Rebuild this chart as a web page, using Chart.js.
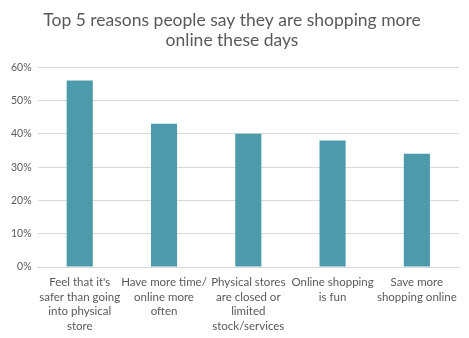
<!DOCTYPE html>
<html lang="en">
  <head>
    <meta charset="UTF-8" />
    <title>Shopping reasons</title>
    <script src="https://cdn.jsdelivr.net/npm/chart.js@4/dist/chart.umd.min.js"></script>
    <style>
      html, body { margin: 0; padding: 0; background: #fff; }
      .chart-container { position: relative; width: 469px; height: 338px; }
    </style>
  </head>
  <body>
    <div class="chart-container">
      <canvas id="chart"></canvas>
    </div>
    <script>
      const titleLines = ['Top 5 reasons people say they are shopping more', 'online these days'];
      const reasons = [
        ["Feel that it's", 'safer than going', 'into physical', 'store'],
        ['Have more time/', 'online more', 'often'],
        ['Physical stores', 'are closed or', 'limited', 'stock/services'],
        ['Online shopping', 'is fun'],
        ['Save more', 'shopping online']
      ];
      const shares = [0.56, 0.43, 0.40, 0.38, 0.34];
      const yTicks = [0, 0.1, 0.2, 0.3, 0.4, 0.5, 0.6];

      const font = "Lato, 'Open Sans', sans-serif";
      const grey = '#595959';

      new Chart(document.getElementById('chart'), {
        type: 'bar',
        data: {
          labels: reasons,
          datasets: [{
            data: shares,
            backgroundColor: '#4e9aad',
            barPercentage: 0.31,
            categoryPercentage: 1
          }]
        },
        options: {
          responsive: true,
          maintainAspectRatio: false,
          animation: false,
          layout: { padding: { left: 5, right: 10, top: 10, bottom: 0 } },
          plugins: {
            legend: { display: false },
            tooltip: { enabled: false },
            title: {
              display: true,
              text: titleLines,
              color: grey,
              font: { family: font, size: 17.5, weight: 'normal', lineHeight: 1.15 },
              padding: { top: 0, bottom: 17 }
            }
          },
          scales: {
            x: {
              grid: { display: false, drawTicks: false },
              border: { color: '#d9d9d9' },
              // keep the label band a fixed height so the plot ends at the same place
              afterFit: axis => { axis.height = 71; },
              ticks: {
                color: grey,
                maxRotation: 0,
                autoSkip: false,
                padding: 8,
                font: { family: font, size: 11.5, lineHeight: 1.27 }
              }
            },
            y: {
              min: 0,
              max: 0.6,
              afterBuildTicks: axis => { axis.ticks = yTicks.map(v => ({ value: v })); },
              grid: { color: '#d9d9d9', drawTicks: false },
              border: { display: false },
              ticks: {
                color: grey,
                padding: 6,
                font: { family: font, size: 10.5 },
                callback: v => Math.round(v * 100) + '%'
              }
            }
          }
        }
      });
    </script>
  </body>
</html>
